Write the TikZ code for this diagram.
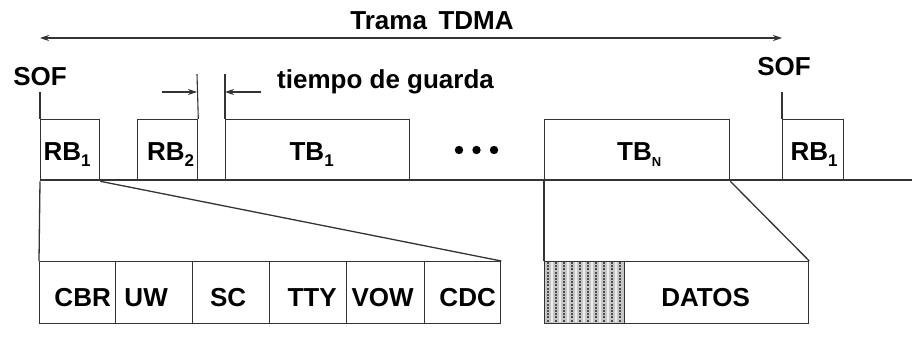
\documentclass[tikz,border=0pt]{standalone}
\usepackage{fontspec}
\setmainfont{Liberation Sans}
\usetikzlibrary{arrows.meta}
\newcommand\subx[1]{\raisebox{-6pt}{\fontsize{17}{17}\selectfont #1}}
\begin{document}
\begin{tikzpicture}[x=1pt,y=-1pt,
  ln/.style={draw=black!80, line width=1.3pt},
  slot/.style={ln, rectangle, inner sep=0pt, minimum height=61pt, anchor=north west},
  field/.style={ln, rectangle, inner sep=0pt, minimum height=62pt, anchor=north west},
  lbl/.style={font=\fontsize{26}{26}\selectfont\bfseries, inner sep=0pt},
  tip/.style={-{Stealth[length=9pt,width=6pt]}}
]
\useasboundingbox (0,0) rectangle (912,337);
% top frame arrow
\node[lbl] (trama) at (432,21) {Trama\, TDMA};
\coordinate (aL) at (40,38);
\coordinate (aR) at (782,38);
\draw[ln, line width=1.1pt, {Stealth[length=9pt,width=6pt]}-{Stealth[length=9pt,width=6pt]}] (aL) -- (aR);
% SOF labels
\node[lbl] (sof1) at (40,77) {SOF};
\node[lbl] (sof2) at (784,67) {SOF};
\node[lbl, anchor=west] (guard) at (277,82) {tiempo de guarda};
% slots
\node[slot, minimum width=59pt] (rb1) at (40,119) {};
\node[slot, minimum width=60pt] (rb2) at (137,119) {};
\node[slot, minimum width=184pt] (tb1) at (225,119) {};
\node[slot, minimum width=185pt] (tbn) at (544,119) {};
\node[slot, minimum width=61pt] (rb1b) at (782,119) {};
\node[lbl] (trb1) at ([xshift=-3pt,yshift=-4pt]rb1.center) {RB\subx{1}};
\node[lbl] (trb2) at ([xshift=3pt,yshift=-4pt]rb2.center) {RB\subx{2}};
\node[lbl] (ttb1) at ([xshift=-6pt,yshift=-4pt]tb1.center) {TB\subx{1}};
\node[lbl] (ttbn) at ([xshift=2pt,yshift=-4pt]tbn.center) {TB\subx{\fontsize{13}{13}\selectfont N}};
\node[lbl] (trb1b) at ([xshift=1pt,yshift=-4pt]rb1b.center) {RB\subx{1}};
% dots
\foreach \x in {459,476.5,494}{\fill (\x,150) circle (4.2pt);}
% base line
\coordinate (bL) at (40,180);
\coordinate (bR) at (912,180);
\draw[ln] (bL) -- (bR);
% SOF and guard lines
\coordinate (s1) at (40,92);
\coordinate (s2) at (782,92);
\coordinate (g1) at (197,74);
\coordinate (g2) at (225,74);
\draw[ln, line width=1.1pt] (s1) -- (rb1.north west);
\draw[ln, line width=1.1pt] (s2) -- (rb1b.north west);
\draw[ln, line width=1.1pt] (g1) -- (rb2.north east);
\draw[ln, line width=1.1pt] (g2) -- (tb1.north west);
\coordinate (ga) at (162,92);
\coordinate (gb) at (197,92);
\coordinate (gc) at (261,92);
\coordinate (gd) at (225,92);
\draw[ln, line width=1.1pt, tip] (ga) -- (gb);
\draw[ln, line width=1.1pt, tip] (gc) -- (gd);
% bottom fields (RB expansion)
\node[field, minimum width=76pt] (cbr) at (39,261) {};
\node[field, minimum width=77pt] (uw) at (115,261) {};
\node[field, minimum width=77pt] (sc) at (192,261) {};
\node[field, minimum width=77pt] (tty) at (269,261) {};
\node[field, minimum width=78pt] (vow) at (346,261) {};
\node[field, minimum width=76pt] (cdc) at (424,261) {};
\node[lbl] (tcbr) at ([xshift=5pt,yshift=-5pt]cbr.center) {CBR};
\node[lbl] (tuw) at ([xshift=-8pt,yshift=-5pt]uw.center) {UW};
\node[lbl] (tsc) at ([xshift=-3pt,yshift=-5pt]sc.center) {SC};
\node[lbl] (ttty) at ([xshift=4pt,yshift=-5pt]tty.center) {TTY};
\node[lbl] (tvow) at ([xshift=-3pt,yshift=-5pt]vow.center) {VOW};
\node[lbl] (tcdc) at ([xshift=5pt,yshift=-5pt]cdc.center) {CDC};
\draw[ln] (rb1.south west) -- (cbr.north west);
\draw[ln] (rb1.south east) -- (cdc.north east);
% bottom fields (TB expansion)
\node[field, minimum width=80pt, fill=gray!45] (hdr) at (544,261) {};
\foreach \x in {548,556,...,620}{\draw[black!70, line width=1.2pt, dash pattern=on 2pt off 1.2pt] (\x,262) -- (\x,322);}
\foreach \x in {552,560,...,620}{\draw[gray!15, line width=1.2pt] (\x,262) -- (\x,322);}
\node[field, minimum width=80pt] (hdr2) at (544,261) {};
\node[field, minimum width=184pt] (datos) at (624,261) {};
\node[lbl] (tdatos) at ([xshift=-11pt,yshift=-5pt]datos.center) {DATOS};
\draw[ln] (tbn.south west) -- (hdr.north west);
\draw[ln] (tbn.south east) -- (datos.north east);
\end{tikzpicture}
\end{document}
